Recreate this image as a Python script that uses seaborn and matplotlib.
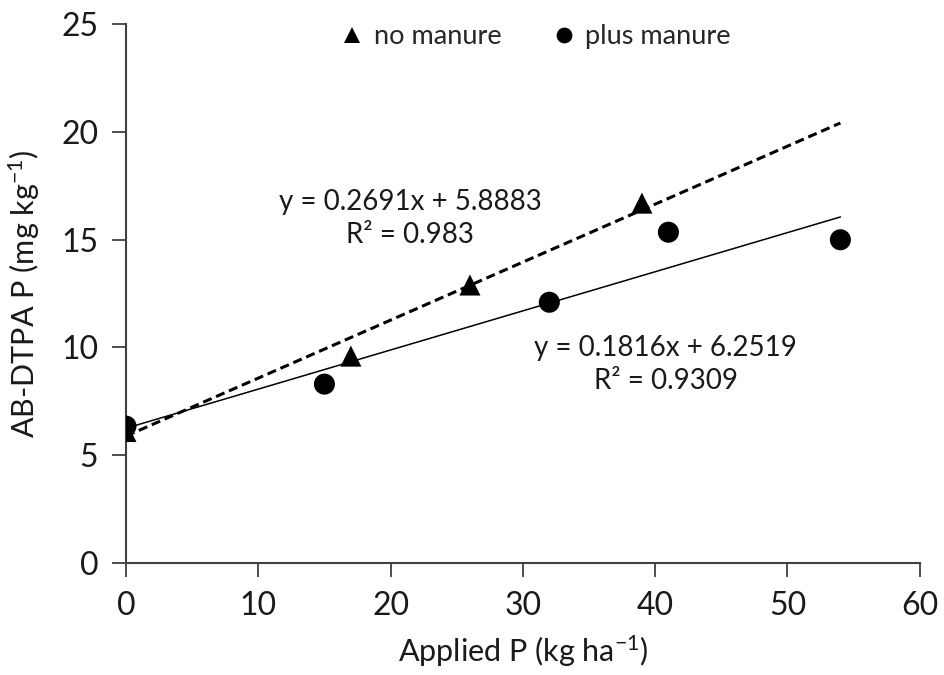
import numpy as np
import pandas as pd
import seaborn as sns
import matplotlib.pyplot as plt

# --- data ---
no_manure_x = [0, 17, 26, 39]
no_manure_y = [6.1, 9.6, 12.9, 16.7]
plus_manure_x = [0, 15, 32, 41, 54]
plus_manure_y = [6.35, 8.3, 12.1, 15.35, 15.0]

# trend line equations printed on the chart
no_manure_fit = (0.2691, 5.8883)
plus_manure_fit = (0.1816, 6.2519)
fit_x_range = [0, 54]

sns.set_style('white')
plt.rcParams['font.family'] = ['Lato', 'DejaVu Sans']
plt.rcParams['mathtext.fontset'] = 'custom'
plt.rcParams['mathtext.rm'] = 'Lato'
plt.rcParams['mathtext.it'] = 'Lato:italic'

df = pd.concat([
    pd.DataFrame({'x': no_manure_x, 'y': no_manure_y, 'group': 'no manure'}),
    pd.DataFrame({'x': plus_manure_x, 'y': plus_manure_y, 'group': 'plus manure'}),
])

fit_x = np.array(fit_x_range)
lines = pd.concat([
    pd.DataFrame({'x': fit_x, 'y': no_manure_fit[0] * fit_x + no_manure_fit[1], 'group': 'no manure'}),
    pd.DataFrame({'x': fit_x, 'y': plus_manure_fit[0] * fit_x + plus_manure_fit[1], 'group': 'plus manure'}),
])

fig = plt.figure(figsize=(9.45, 6.75), dpi=100)
ax = fig.add_axes([0.1333, 0.166, 0.84, 0.798])

# trend lines
sns.lineplot(data=lines[lines.group == 'no manure'], x='x', y='y', color='black',
             linestyle=(0, (3, 1.6)), linewidth=2.2, ax=ax, legend=False)
sns.lineplot(data=lines[lines.group == 'plus manure'], x='x', y='y', color='black',
             linewidth=1.1, ax=ax, legend=False)

# points
sns.scatterplot(data=df, x='x', y='y', style='group', markers={'no manure': '^', 'plus manure': 'o'},
                color='black', s=230, edgecolor='none', ax=ax, zorder=3)

ax.set_xlim(0, 60)
ax.set_ylim(0, 25)
ax.set_xticks(range(0, 61, 10))
ax.set_yticks(range(0, 26, 5))
ax.set_xlabel('Applied P (kg ha$^{-1}$)', fontsize=22, color='#1a1a1a', labelpad=9)
ax.set_ylabel('AB-DTPA P (mg kg$^{-1}$)', fontsize=22, color='#1a1a1a', labelpad=14)
ax.tick_params(axis='both', labelsize=23, colors='#1a1a1a', direction='out',
               length=10, width=1.3, left=True, bottom=True, pad=10)
ax.tick_params(axis='both', color='#404040')
for side in ['top', 'right']:
    ax.spines[side].set_visible(False)
for side in ['left', 'bottom']:
    ax.spines[side].set_color('#404040')
    ax.spines[side].set_linewidth(1.5)

# equation labels
ax.text(21.5, 16.0, 'y = 0.2691x + 5.8883\nR² = 0.983', fontsize=20, ha='center', va='center',
        linespacing=1.35, color='#1a1a1a')
ax.text(40.8, 9.22, 'y = 0.1816x + 6.2519\nR² = 0.9309', fontsize=20, ha='center', va='center',
        linespacing=1.35, color='#1a1a1a')

handles, labels = ax.get_legend_handles_labels()
leg = ax.legend(handles, labels, loc='upper center', bbox_to_anchor=(0.515, 1.045), ncol=2, frameon=False,
                fontsize=19.5, handlelength=1.0, handletextpad=0.3, columnspacing=1.8, markerscale=0.75)

fig.savefig('out.png', dpi=100)
